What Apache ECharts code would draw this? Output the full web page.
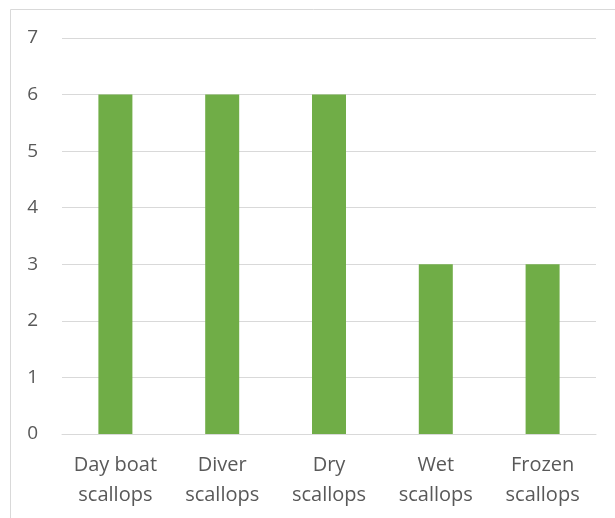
<!DOCTYPE html>
<html>
<head>
<meta charset="utf-8">
<script src="https://cdn.jsdelivr.net/npm/echarts@6/dist/echarts.min.js"></script>
<style>
  html, body { margin: 0; padding: 0; background: #fff; }
  #chart { width: 615px; height: 518px; }
</style>
</head>
<body>
<div id="chart"></div>
<script>
const categories = ["Day boat\nscallops", "Diver\nscallops", "Dry\nscallops", "Wet\nscallops", "Frozen\nscallops"];
const values = [6, 6, 6, 3, 3];

const chart = echarts.init(document.getElementById("chart"));

const options = {
  animation: false,
  // 外框
  graphic: [
    {
      type: "rect",
      shape: { x: 10.5, y: 9.5, width: 640, height: 540 },
      style: { fill: "none", stroke: "#d9d9d9", lineWidth: 1 },
      silent: true,
    },
  ],
  grid: {
    left: 62,
    right: 19,
    top: 38,
    bottom: 84,
  },
  xAxis: {
    type: "category",
    data: categories,
    axisTick: { show: false },
    axisLine: { lineStyle: { color: "#d9d9d9", width: 1 } },
    axisLabel: {
      interval: 0,
      hideOverlap: false,
      color: "#595959",
      fontSize: 20,
      fontFamily: "Open Sans",
      lineHeight: 30,
      margin: 16,
    },
  },
  yAxis: {
    type: "value",
    min: 0,
    max: 7,
    interval: 1,
    axisLine: { show: false },
    axisTick: { show: false },
    splitLine: { lineStyle: { color: "#d9d9d9", width: 1 } },
    axisLabel: {
      color: "#595959",
      fontSize: 19,
      fontFamily: "Open Sans",
      margin: 24,
    },
  },
  series: [
    {
      type: "bar",
      data: values,
      barWidth: 34,
      itemStyle: { color: "#70ad47" },
    },
  ],
};

chart.setOption(options);
</script>
</body>
</html>
